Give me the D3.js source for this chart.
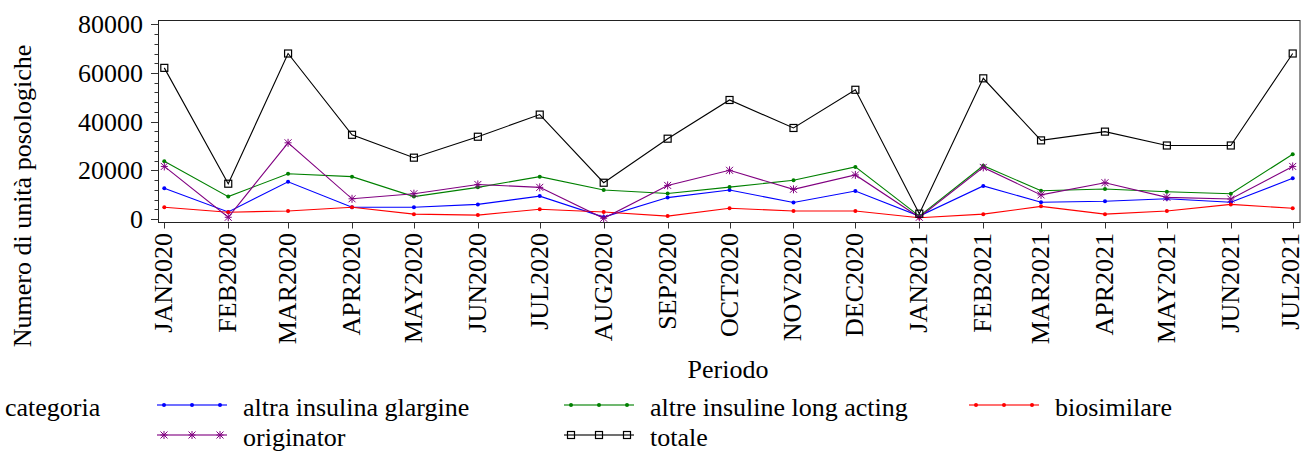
<!DOCTYPE html>
<html>
<head>
<meta charset="utf-8">
<script src="https://cdn.jsdelivr.net/npm/d3@7"></script>
<style>
  html, body { margin: 0; padding: 0; background: #fff; }
  svg { display: block; }
  svg text { font-family: "Liberation Serif", "Times New Roman", serif; }
</style>
</head>
<body>
<svg id="chart" width="1305" height="453"></svg>
<script>
// ---- data ----
const periods = ["JAN2020","FEB2020","MAR2020","APR2020","MAY2020","JUN2020","JUL2020","AUG2020","SEP2020","OCT2020","NOV2020","DEC2020","JAN2021","FEB2021","MAR2021","APR2021","MAY2021","JUN2021","JUL2021"];
const altraInsulinaGlargine = [12600, 2900, 15300, 4800, 4800, 6000, 9400, 800, 8800, 11900, 6800, 11500, 1200, 13600, 6900, 7300, 8300, 6900, 16700];
const altreInsulineLongActing = [23700, 9200, 18600, 17400, 9200, 13000, 17400, 11900, 10500, 13100, 15900, 21400, 1200, 21900, 11600, 12300, 11200, 10400, 26600];
const biosimilare = [4800, 2800, 3300, 4800, 2000, 1600, 4000, 2900, 1200, 4400, 3300, 3300, 500, 2000, 5200, 2000, 3300, 6000, 4400];
const originator = [21600, 700, 31300, 8300, 10400, 14200, 13000, 300, 13800, 20000, 12200, 18100, 700, 21200, 9900, 14900, 8900, 8200, 21600];
const totale = [62100, 14500, 68000, 34600, 25200, 33800, 42900, 14900, 33000, 48900, 37400, 53100, 2200, 57800, 32300, 35900, 30200, 30200, 68000];
const yTicks = [0, 20000, 40000, 60000, 80000];
const seriesNames = ["altra insulina glargine", "altre insuline long acting", "biosimilare", "originator", "totale"];

const monthIdx = {JAN:0,FEB:1,MAR:2,APR:3,MAY:4,JUN:5,JUL:6,AUG:7,SEP:8,OCT:9,NOV:10,DEC:11};
const dates = periods.map(p => new Date(+p.slice(3), monthIdx[p.slice(0,3)], 1));

const series = [
  {name: seriesNames[0], values: altraInsulinaGlargine, color: "#0000ff", marker: "dot"},
  {name: seriesNames[1], values: altreInsulineLongActing, color: "#008000", marker: "dot"},
  {name: seriesNames[2], values: biosimilare, color: "#ff0000", marker: "dot"},
  {name: seriesNames[3], values: originator, color: "#800080", marker: "star"},
  {name: seriesNames[4], values: totale, color: "#000000", marker: "square"}
];

// ---- layout ----
const frame = {left: 158.5, top: 20.5, right: 1300, bottom: 222.5};
const svg = d3.select("#chart");
const FONT = 26;
const FAMILY = "'Liberation Serif', 'Times New Roman', serif";

const x = d3.scaleTime().domain([dates[0], dates[dates.length - 1]]).range([164.3, 1292.7]);
const y = d3.scaleLinear().domain([0, 80000]).range([219, 24.3]);

// frame
svg.append("rect")
  .attr("x", frame.left).attr("y", frame.top)
  .attr("width", frame.right - frame.left).attr("height", frame.bottom - frame.top)
  .attr("fill", "none").attr("stroke", "#222").attr("stroke-width", 1);

// y axis ticks
const yMinor = d3.range(0, 80001, 4000).filter(v => v % 20000 !== 0);
const yAx = svg.append("g");
yAx.selectAll("line.minor").data(yMinor).join("line")
  .attr("x1", frame.left - 4).attr("x2", frame.left)
  .attr("y1", d => Math.round(y(d)) + 0.5).attr("y2", d => Math.round(y(d)) + 0.5)
  .attr("stroke", "#333");
yAx.selectAll("line.major").data(yTicks).join("line")
  .attr("x1", frame.left - 7.5).attr("x2", frame.left)
  .attr("y1", d => Math.round(y(d)) + 0.5).attr("y2", d => Math.round(y(d)) + 0.5)
  .attr("stroke", "#333");
yAx.selectAll("text").data(yTicks).join("text")
  .attr("x", 143).attr("y", d => y(d) + 9)
  .attr("text-anchor", "end").attr("font-size", FONT).attr("font-family", FAMILY).attr("fill", "#000")
  .text(d => d);

// x axis ticks & labels
const xAx = svg.append("g");
xAx.selectAll("line").data(dates).join("line")
  .attr("x1", d => Math.round(x(d)) + 0.5).attr("x2", d => Math.round(x(d)) + 0.5)
  .attr("y1", frame.bottom).attr("y2", frame.bottom + 6)
  .attr("stroke", "#333");
xAx.selectAll("text").data(dates).join("text")
  .attr("transform", d => `translate(${Math.min(x(d) + 8, 1298.5)},233) rotate(-90)`)
  .attr("text-anchor", "end").attr("font-size", FONT).attr("font-family", FAMILY).attr("fill", "#000")
  .text((d, i) => periods[i]);

// axis titles
svg.append("text")
  .attr("transform", "translate(31,196) rotate(-90)")
  .attr("text-anchor", "middle").attr("font-size", FONT).attr("font-family", FAMILY)
  .text("Numero di unità posologiche");
svg.append("text")
  .attr("x", 728).attr("y", 378)
  .attr("text-anchor", "middle").attr("font-size", FONT).attr("font-family", FAMILY)
  .text("Periodo");

// markers
function drawMarker(g, type, color, cx, cy) {
  if (type === "dot") {
    g.append("circle").attr("cx", cx).attr("cy", cy).attr("r", 2).attr("fill", color);
  } else if (type === "star") {
    const r = 3.5;
    const p = d3.path();
    p.moveTo(cx - r, cy - r); p.lineTo(cx + r, cy + r);
    p.moveTo(cx - r, cy + r); p.lineTo(cx + r, cy - r);
    p.moveTo(cx, cy - r - 0.5); p.lineTo(cx, cy + r + 0.5);
    p.moveTo(cx - r, cy); p.lineTo(cx + r, cy);
    g.append("path").attr("d", p.toString()).attr("stroke", color).attr("stroke-width", 1).attr("fill", "none");
  } else if (type === "square") {
    g.append("rect").attr("x", cx - 3.5).attr("y", cy - 3.5).attr("width", 7).attr("height", 7)
      .attr("fill", "none").attr("stroke", color).attr("stroke-width", 1.2);
  }
}

// lines
const line = d3.line().x((d, i) => x(dates[i])).y(d => y(d));
const plot = svg.append("g");
series.forEach(s => {
  const g = plot.append("g");
  g.append("path").attr("d", line(s.values)).attr("fill", "none")
    .attr("stroke", s.color).attr("stroke-width", 1.1);
  s.values.forEach((v, i) => drawMarker(g, s.marker, s.color, x(dates[i]), y(v)));
});

// legend
const leg = svg.append("g");
leg.append("text").attr("x", 5).attr("y", 416).attr("font-size", FONT).attr("font-family", FAMILY).text("categoria");
const legPos = [
  {lx: 157, row: 0}, {lx: 564, row: 0}, {lx: 969, row: 0},
  {lx: 157, row: 1}, {lx: 564, row: 1}
];
series.forEach((s, i) => {
  const p = legPos[i];
  const baseY = 416 + p.row * 30;
  const ly = baseY - 11;
  const g = leg.append("g");
  g.append("line").attr("x1", p.lx).attr("x2", p.lx + 70).attr("y1", ly).attr("y2", ly)
    .attr("stroke", s.color).attr("stroke-width", 1.6).attr("stroke-opacity", 0.75);
  [7, 35, 63].forEach(o => drawMarker(g, s.marker, s.color, p.lx + o, ly));
  g.append("text").attr("x", p.lx + 86).attr("y", baseY).attr("font-size", FONT).attr("font-family", FAMILY).text(s.name);
});
</script>
</body>
</html>
